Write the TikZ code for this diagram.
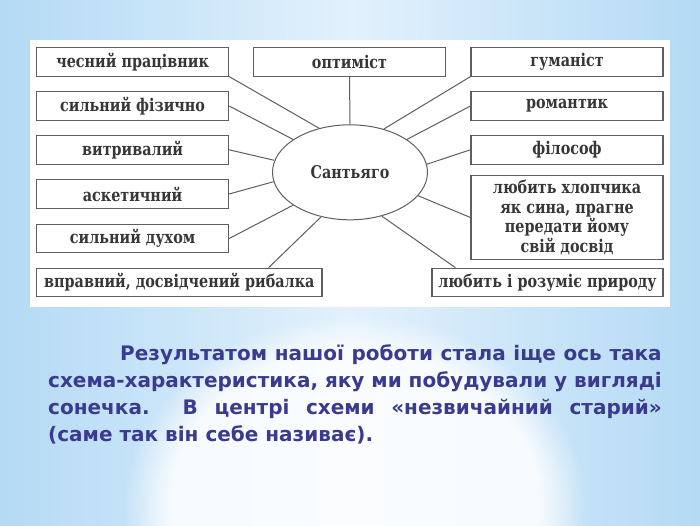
\documentclass[tikz,border=0pt]{standalone}
\usepackage{fontspec}
\setmainfont{DejaVu Serif}[FakeStretch=0.82]
\newfontfamily\notefont{DejaVu Sans}
\usetikzlibrary{shapes.geometric,calc,fadings}
\definecolor{bgedge}{RGB}{180,218,245}
\definecolor{bgmid}{RGB}{226,241,252}
\definecolor{boxline}{RGB}{95,95,95}
\definecolor{boxtext}{RGB}{55,55,55}
\definecolor{notetext}{RGB}{58,58,142}

\begin{document}
\begin{tikzpicture}[x=1pt,y=-1pt,
  trait/.style={draw=boxline,line width=1.1pt,fill=white,minimum width=192pt,minimum height=28.5pt,inner sep=0pt,text=boxtext,font=\bfseries\fontsize{17.5}{19.5}\selectfont},
  hero/.style={ellipse,draw=boxline,line width=1pt,minimum width=155pt,minimum height=95pt,inner sep=0pt,text=boxtext,font=\bfseries\fontsize{17.5}{19.5}\selectfont},
  ray/.style={draw=boxline,line width=1pt},
  note/.style={anchor=base west,inner sep=0pt,text=notetext,font=\notefont\bfseries\fontsize{20}{27}\selectfont}]
\path[use as bounding box] (0,0) rectangle (700,525);
% background
\shade[left color=bgedge,right color=bgedge,middle color=bgmid] (0,0) rectangle (700,525);
\fill[white,opacity=.85,path fading=circle with fuzzy edge 20 percent] (355,505) ellipse [x radius=230,y radius=190];
\fill[white] (30,39.5) rectangle (670,306.5);
% left column
\node[trait] (honest) at (132.6,61.8) {чесний працівник};
\node[trait] (strong) at (132.6,106) {сильний фізично};
\node[trait] (endure) at (132.6,149.8) {витривалий};
\node[trait] (ascetic) at (132.6,194) {аскетичний};
\node[trait] (spirit) at (132.6,238.5) {сильний духом};
\node[trait,minimum width=285.4pt] (fisher) at (179.3,282.5) {вправний, досвідчений рибалка};
% top and right column
\node[trait] (optim) at (349.5,61.8) {оптиміст};
\node[trait] (human) at (567,61.8) {гуманіст};
\node[trait] (romant) at (567,106) {романтик};
\node[trait] (philos) at (567,149.8) {філософ};
\node[trait,minimum height=83.5pt,align=center] (boy) at (567,217.5) {любить хлопчика\\як сина, прагне\\передати йому\\свій досвід};
\node[trait,minimum width=231pt] (nature) at (547.5,282.5) {любить і розуміє природу};
% centre
\node[hero] (santiago) at (350,172.3) {Сантьяго};
\draw[ray] (honest.south east) -- (santiago.125);
\draw[ray] (optim.south) -- (santiago.north);
\draw[ray] (human.south west) -- (santiago.52);
\draw[ray] (strong.east) -- (santiago.150);
\draw[ray] (romant.west) -- (santiago.30);
\draw[ray] (endure.east) -- (santiago.171);
\draw[ray] (philos.west) -- (santiago.6);
\draw[ray] (ascetic.east) -- (santiago.187);
\draw[ray] (boy.west) -- (santiago.-19);
\draw[ray] (spirit.east) -- (santiago.210);
\draw[ray] ($(fisher.north east)+(-54,0)$) -- (santiago.237);
\draw[ray] ($(nature.north west)+(24,0)$) -- (santiago.-54);
% text below
\node[note] (note1) at (120,360.7) {\makebox[541.5pt][s]{Результатом нашої роботи стала іще ось така}};
\node[note] (note2) at (48,387.7) {\makebox[613.5pt][s]{схема-характеристика, яку ми побудували у вигляді}};
\node[note] (note3) at (48,414.7) {\makebox[613.5pt][s]{сонечка.\ \ В центрі схеми «незвичайний старий»}};
\node[note] (note4) at (48,441.7) {(саме так він себе називає).};
\end{tikzpicture}
\end{document}
